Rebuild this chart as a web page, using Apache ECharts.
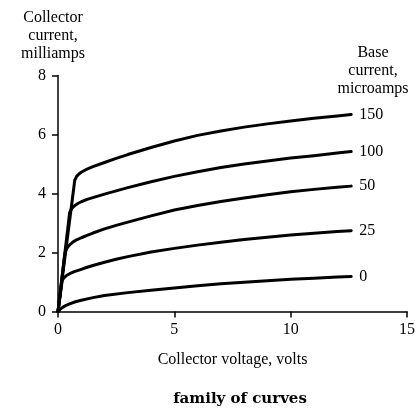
<!DOCTYPE html>
<html>
<head>
<meta charset="utf-8">
<script src="https://cdn.jsdelivr.net/npm/echarts@6/dist/echarts.min.js"></script>
<style>
  html, body { margin: 0; padding: 0; background: #fff; }
  #chart { width: 418px; height: 408px; }
</style>
</head>
<body>
<div id="chart"></div>
<script>
// Transistor collector characteristics: collector current (mA) vs collector voltage (V)
const baseCurrents = ['150', '100', '50', '25', '0'];   // base current, microamps

const curve150 = [[0,0],[0.72,4.45],[0.8,4.58],[0.9,4.66],[1,4.72],[1.25,4.83],[1.5,4.91],[2,5.05],[2.5,5.19],[3,5.32],[4,5.56],[5,5.78],[6,5.97],[7,6.12],[8,6.25],[9,6.36],[10,6.46],[11,6.55],[12,6.63],[12.6,6.68]];
const curve100 = [[0,0],[0.5,3.35],[0.58,3.48],[0.7,3.58],[0.85,3.66],[1,3.72],[1.25,3.8],[1.5,3.86],[2,3.98],[2.5,4.09],[3,4.2],[4,4.4],[5,4.58],[6,4.74],[7,4.88],[8,5.0],[9,5.1],[10,5.2],[11,5.28],[12,5.37],[12.6,5.42]];
const curve50  = [[0,0],[0.3,2.0],[0.38,2.14],[0.5,2.26],[0.65,2.36],[0.8,2.43],[1,2.5],[1.25,2.58],[1.5,2.66],[2,2.8],[2.5,2.92],[3,3.03],[4,3.24],[5,3.44],[6,3.59],[7,3.73],[8,3.85],[9,3.96],[10,4.06],[11,4.14],[12,4.21],[12.6,4.25]];
const curve25  = [[0,0],[0.18,1.05],[0.25,1.14],[0.35,1.21],[0.5,1.28],[0.7,1.35],[1,1.43],[1.25,1.5],[1.5,1.56],[2,1.67],[2.5,1.77],[3,1.86],[4,2.02],[5,2.14],[6,2.25],[7,2.35],[8,2.44],[9,2.52],[10,2.59],[11,2.65],[12,2.71],[12.6,2.74]];
const curve0   = [[0,0],[0.1,0.08],[0.2,0.14],[0.35,0.21],[0.5,0.26],[0.75,0.33],[1,0.38],[1.5,0.47],[2,0.54],[3,0.64],[4,0.72],[5,0.8],[6,0.87],[7,0.94],[8,0.99],[9,1.04],[10,1.09],[11,1.13],[12,1.17],[12.6,1.19]];
const curves = [curve150, curve100, curve50, curve25, curve0];

const xTicks = [0, 5, 10, 15];
const yTicks = [0, 2, 4, 6, 8];

const serif = '"Liberation Serif", "Times New Roman", serif';
const ink = '#000';

const chart = echarts.init(document.getElementById('chart'), null, { renderer: 'canvas' });

chart.setOption({
  animation: false,
  backgroundColor: '#fff',
  grid: { left: 58, right: 6, top: 75.5, bottom: 96.5, containLabel: false },
  xAxis: {
    type: 'value',
    min: xTicks[0], max: xTicks[xTicks.length - 1], interval: 5,
    name: 'Collector voltage, volts',
    nameLocation: 'middle', nameGap: 40,
    nameTextStyle: { fontFamily: serif, fontSize: 16, color: ink },
    axisLine: { lineStyle: { color: ink, width: 1.5 } },
    axisTick: { length: 6, lineStyle: { color: ink, width: 1.5 } },
    axisLabel: { margin: 10, fontFamily: serif, fontSize: 16, color: ink },
    splitLine: { show: false }
  },
  yAxis: {
    type: 'value',
    min: yTicks[0], max: yTicks[yTicks.length - 1], interval: 2,
    axisLine: { show: true, lineStyle: { color: ink, width: 1.5 } },
    axisTick: { show: true, length: 6, lineStyle: { color: ink, width: 1.5 } },
    axisLabel: { margin: 12, fontFamily: serif, fontSize: 16, color: ink },
    splitLine: { show: false }
  },
  graphic: [
    {
      type: 'text',
      style: {
        text: 'Collector\ncurrent,\nmilliamps',
        font: '16px ' + serif, fill: ink, align: 'center', lineHeight: 18
      },
      x: 53, y: 9
    },
    {
      type: 'text',
      style: {
        text: 'Base\ncurrent,\nmicroamps',
        font: '16px ' + serif, fill: ink, align: 'center', lineHeight: 18
      },
      x: 373, y: 44
    },
    {
      type: 'text',
      style: {
        text: 'family of curves',
        font: 'bold 15px "DejaVu Serif", serif', fill: ink, align: 'center'
      },
      x: 240, y: 392
    }
  ],
  series: curves.map((d, i) => ({
    type: 'line',
    name: baseCurrents[i],
    data: d,
    showSymbol: false,
    smooth: false,
    lineStyle: { color: ink, width: 3, join: 'round', cap: 'round' },
    endLabel: {
      show: true,
      formatter: baseCurrents[i],
      distance: 8,
      fontFamily: serif, fontSize: 16, color: ink
    }
  }))
});
</script>
</body>
</html>
